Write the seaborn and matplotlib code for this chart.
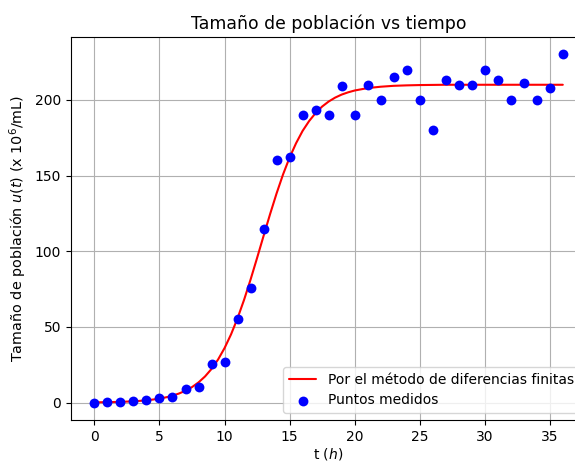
import matplotlib
matplotlib.use("Agg")
import matplotlib.pyplot as plt
import seaborn as sns
import pandas as pd

# Measured points
t_medidos = list(range(0, 37))
u_medidos = [0, 0.3, 0.5, 1.2, 1.5, 3, 3.5, 9, 10, 25.4, 27, 55, 76, 115,
             160, 162, 190, 193, 190, 209, 190, 210, 200, 215, 220, 200, 180,
             213, 210, 210, 220, 213, 200, 211, 200, 208, 230]

# Finite-difference curve
t_curva = [0, 0.5, 1, 1.5, 2, 2.5, 3, 3.5, 4, 4.5, 5, 5.5, 6, 6.5, 7, 7.5, 8,
           8.5, 9, 9.5, 10, 10.5, 11, 11.5, 12, 12.5, 13, 13.5, 14, 14.5, 15,
           15.5, 16, 16.5, 17, 17.5, 18, 18.5, 19, 19.5, 20, 21, 22, 23, 24,
           25, 26, 27, 28, 29, 30, 31, 32, 33, 34, 35, 36]
u_curva = [0.16, 0.22, 0.29, 0.38, 0.50, 0.66, 0.87, 1.15, 1.52, 2.0, 2.64,
           3.47, 4.56, 5.99, 7.84, 10.24, 13.33, 17.26, 22.22, 28.41, 35.98,
           45.06, 55.72, 67.85, 81.24, 95.5, 110.1, 124.5, 138.2, 150.8, 161.9,
           171.4, 179.5, 186.0, 191.3, 195.6, 198.9, 201.5, 203.5, 205.0,
           206.2, 207.8, 208.7, 209.3, 209.6, 209.8, 209.9, 210, 210, 210, 210,
           210, 210, 210, 210, 210, 210]

df_med = pd.DataFrame({"t": t_medidos, "u": u_medidos})
df_cur = pd.DataFrame({"t": t_curva, "u": u_curva})

sns.set_style("ticks", {"axes.grid": True, "grid.color": "#b0b0b0",
                        "axes.edgecolor": "black", "text.color": "black",
                        "axes.labelcolor": "black", "xtick.color": "black",
                        "ytick.color": "black"})
plt.rcParams["font.family"] = ["DejaVu Sans"]
plt.rcParams["mathtext.fontset"] = "dejavusans"

fig = plt.figure(figsize=(5.75, 4.63), dpi=100)
ax = fig.add_axes([0.1235, 0.0929, 0.896, 0.827])

sns.lineplot(data=df_cur, x="t", y="u", ax=ax, color="red", linewidth=1.5,
             label="Por el método de diferencias finitas")
sns.scatterplot(data=df_med, x="t", y="u", ax=ax, color="blue", s=50,
                linewidth=0, label="Puntos medidos", zorder=3)

ax.set_xlim(-1.8, 37.8)
ax.set_ylim(-11.5, 241.5)
ax.set_xticks([0, 5, 10, 15, 20, 25, 30, 35])
ax.set_yticks([0, 50, 100, 150, 200])
ax.grid(True, color="#b0b0b0", linewidth=0.8)
ax.tick_params(labelsize=10, length=3.5, width=0.8, color="black",
               labelcolor="black")
for s in ax.spines.values():
    s.set_linewidth(0.8)
    s.set_color("black")

ax.set_title("Tamaño de población vs tiempo", fontsize=12.4, color="black")
ax.set_xlabel("t ($h$)", fontsize=10, labelpad=2, color="black")
ax.set_ylabel("Tamaño de población $u(t)$ (x $10^6$/mL)", fontsize=10.4,
              color="black")
ax.legend(loc="lower right", fontsize=10, labelcolor="black")

fig.savefig("out.png", dpi=100)
